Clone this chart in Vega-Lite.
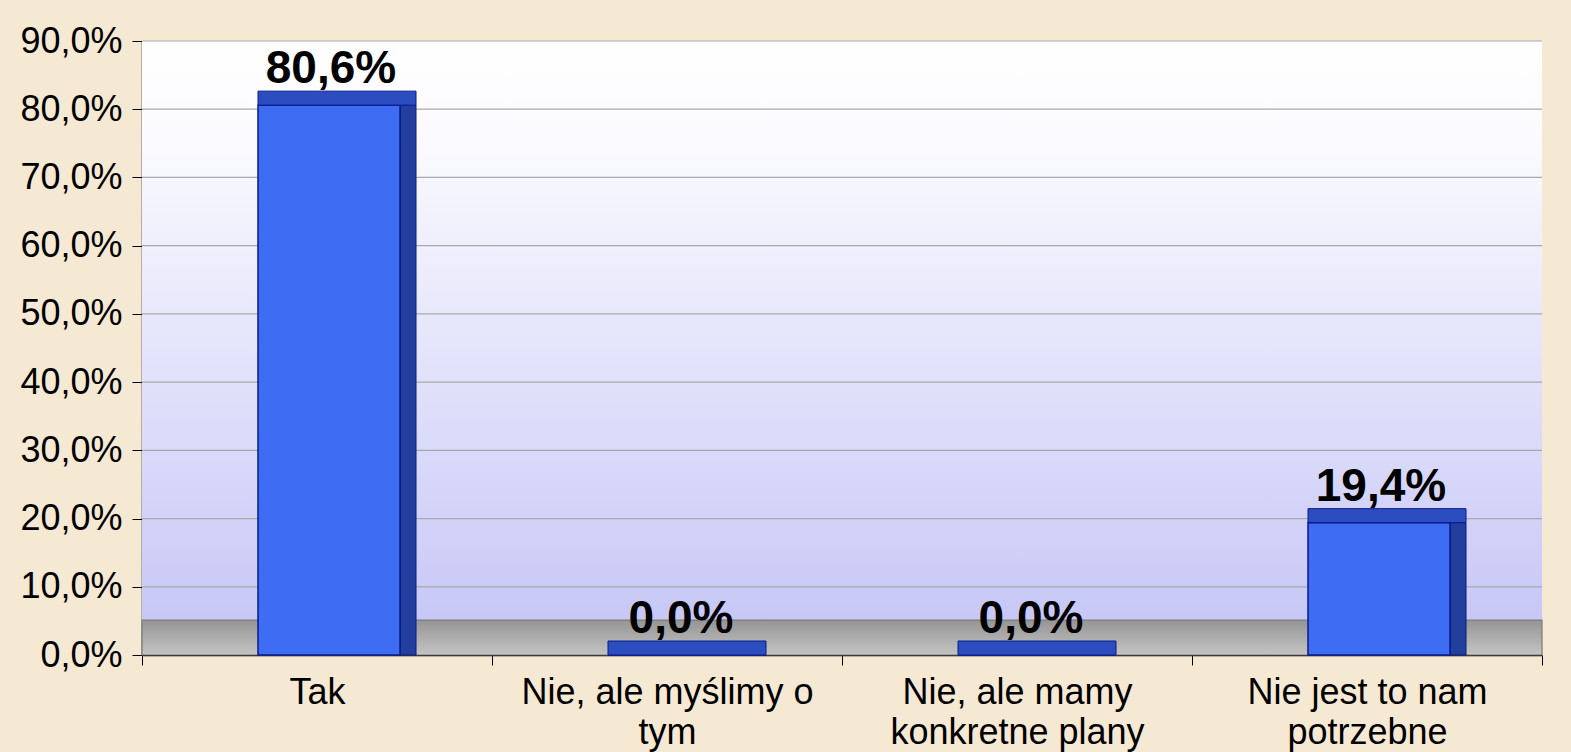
{
  "$schema": "https://vega.github.io/schema/vega-lite/v6.json",
  "width": 1400,
  "height": 614,
  "autosize": {"type": "none"},
  "padding": {"left": 142, "top": 41, "right": 29, "bottom": 97},
  "background": "#f6e9d4",
  "config": {
    "view": {"stroke": null},
    "font": "Liberation Sans"
  },
  "datasets": {
    "answers": [
      {"kategoria": "Tak", "procent": 80.6},
      {"kategoria": "Nie, ale myślimy o tym", "procent": 0.0},
      {"kategoria": "Nie, ale mamy konkretne plany", "procent": 0.0},
      {"kategoria": "Nie jest to nam potrzebne", "procent": 19.4}
    ],
    "grid": [
      {"g": 10}, {"g": 20}, {"g": 30}, {"g": 40}, {"g": 50},
      {"g": 60}, {"g": 70}, {"g": 80}, {"g": 90}
    ]
  },
  "layer": [
    {
      "data": {"values": [{"a": 0, "b": 90}]},
      "mark": {
        "type": "rect",
        "fill": {
          "gradient": "linear", "x1": 0, "y1": 0, "x2": 0, "y2": 1,
          "stops": [
            {"offset": 0, "color": "#ffffff"},
            {"offset": 0.15, "color": "#fbfbff"},
            {"offset": 1, "color": "#c4c4f6"}
          ]
        }
      },
      "encoding": {
        "y": {
          "field": "b", "type": "quantitative",
          "scale": {"domain": [0, 90], "nice": false},
          "axis": {
            "title": null,
            "values": [0, 10, 20, 30, 40, 50, 60, 70, 80, 90],
            "grid": false,
            "labelFontSize": 36,
            "labelColor": "#000000",
            "labelFont": "Liberation Sans",
            "labelPadding": 10,
            "labelLimit": 0,
            "domain": true,
            "domainColor": "#000000",
            "domainWidth": 1.5,
            "ticks": true,
            "tickColor": "#000000",
            "tickSize": 10,
            "labelExpr": "replace(format(datum.value, '.1f'), '.', ',') + '%'"
          }
        },
        "y2": {"field": "a"}
      }
    },
    {
      "data": {"name": "grid"},
      "mark": {"type": "rule", "color": "#a9a9a9", "strokeWidth": 1.2},
      "encoding": {
        "y": {"field": "g", "type": "quantitative", "scale": {"domain": [0, 90], "nice": false}}
      }
    },
    {
      "data": {"values": [{"a": 0, "b": 5.1}]},
      "mark": {
        "type": "rect",
        "stroke": "#7a7a7a",
        "strokeWidth": 1.2,
        "fill": {
          "gradient": "linear", "x1": 0, "y1": 0, "x2": 0, "y2": 1,
          "stops": [
            {"offset": 0, "color": "#959595"},
            {"offset": 1, "color": "#c4c4c4"}
          ]
        }
      },
      "encoding": {
        "y": {"field": "b", "type": "quantitative", "scale": {"domain": [0, 90], "nice": false}},
        "y2": {"field": "a"}
      }
    },
    {
      "data": {"name": "answers"},
      "encoding": {
        "x": {
          "field": "kategoria",
          "type": "nominal",
          "sort": null,
          "scale": {"paddingInner": 0, "paddingOuter": 0},
          "axis": {
            "title": null,
            "labelAngle": 0,
            "labelFontSize": 36,
            "labelColor": "#000000",
            "labelFont": "Liberation Sans",
            "labelPadding": 10,
            "labelLineHeight": 40,
            "labelBaseline": "top",
            "labelLimit": 0,
            "domainColor": "#000000",
            "domainWidth": 1.5,
            "tickColor": "#000000",
            "tickSize": 10,
            "tickBand": "extent",
            "labelExpr": "datum.label == 'Nie, ale myślimy o tym' ? ['Nie, ale myślimy o', 'tym'] : datum.label == 'Nie, ale mamy konkretne plany' ? ['Nie, ale mamy', 'konkretne plany'] : datum.label == 'Nie jest to nam potrzebne' ? ['Nie jest to nam', 'potrzebne'] : datum.label"
          }
        },
        "y": {
          "field": "procent",
          "type": "quantitative",
          "scale": {"domain": [0, 90], "nice": false}
        }
      },
      "layer": [
        {
          "mark": {"type": "bar", "size": 16, "xOffset": 91, "color": "#223f9e", "opacity": 1, "stroke": "#0a1a80", "strokeWidth": 1},
          "encoding": {}
        },
        {
          "mark": {"type": "bar", "size": 142, "xOffset": 12, "color": "#3e6df3", "opacity": 1, "stroke": "#0a1a8a", "strokeWidth": 1.5},
          "encoding": {}
        },
        {
          "mark": {"type": "tick", "size": 158, "thickness": 14, "xOffset": 20, "yOffset": -7, "color": "#2b4dc0", "opacity": 1, "stroke": "#0a1a8a", "strokeWidth": 1},
          "encoding": {}
        },
        {
          "mark": {
            "type": "text", "fontSize": 46, "fontWeight": "bold", "font": "Liberation Sans",
            "baseline": "alphabetic", "dy": -22, "xOffset": 14, "color": "#000000",
            "text": {"expr": "replace(format(datum.procent, '.1f'), '.', ',') + '%'"}
          },
          "encoding": {}
        }
      ]
    }
  ]
}
